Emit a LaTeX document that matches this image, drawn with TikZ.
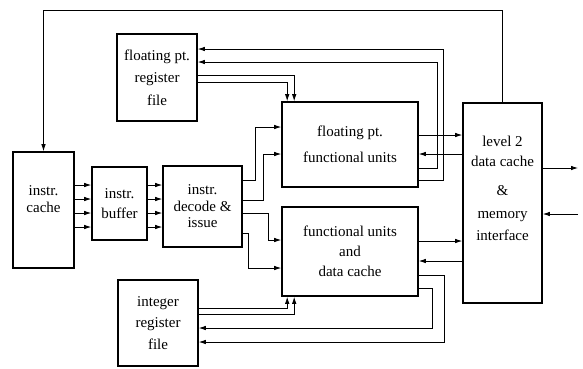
\documentclass[tikz,border=0pt]{standalone}
\usepackage{fontspec}
\setmainfont{Liberation Serif}
\usetikzlibrary{arrows.meta,positioning,calc}
\tikzset{every picture/.style={line width=0.8pt}}
\tikzset{
  blk/.style={draw, line width=1.6pt, align=center, inner sep=0pt, font=\fontsize{15}{20}\selectfont},
  txt/.style={align=center, inner sep=0pt, font=\fontsize{15}{20}\selectfont},
  arr/.style={-{Latex[length=7pt,width=4.5pt]}},
}

\begin{document}
\begin{tikzpicture}[x=1pt,y=-1pt]
    \useasboundingbox (0,0) rectangle (583,368);

    % 方块
    \node[blk, minimum width=61pt, minimum height=116pt, font=\fontsize{15}{17}\selectfont] (icache) at (43.5,210) {instr.\\cache\\[4pt]};
    \node[blk, minimum width=55pt, minimum height=73pt] (ibuf) at (119.5,203.5) {instr.\\buffer};
    \node[blk, minimum width=79pt, minimum height=81pt, font=\fontsize{15}{16.5}\selectfont] (decode) at (202.5,206.5) {instr.\\decode \&\\issue};
    \node[blk, minimum width=80pt, minimum height=87pt, font=\fontsize{15}{22.5}\selectfont] (fpreg) at (157,77.5) {floating pt.\\register\\file};
    \node[blk, minimum width=136pt, minimum height=85pt, font=\fontsize{15}{26}\selectfont] (fpfu) at (350,144.5) {floating pt.\\functional units};
    \node[blk, minimum width=136pt, minimum height=89pt] (fu) at (350,251.5) {functional units\\and\\data cache};
    \node[blk, minimum width=80pt, minimum height=86pt, font=\fontsize{15}{21.5}\selectfont] (intreg) at (158,323) {integer\\register\\file};
    \node[blk, minimum width=79pt, minimum height=200pt] (l2) at (502.5,203) {};
    \node[txt] (l2txt) at (502.5,188) {level 2\\data cache\\[9pt]\&\\[3pt]memory\\[2pt]interface};

    % 外部接口
    \coordinate (out) at (578,168);
    \coordinate (in) at (578,214);

    % 回到指令缓存
    \draw[arr] (l2.north) -- (l2.north |- 0,10) -| (icache.north);

    % 取指通路
    \foreach \y in {185,199,213,227} {
        \draw[arr] (icache.east |- 0,\y) -- (ibuf.west |- 0,\y);
        \draw[arr] (ibuf.east |- 0,\y) -- (decode.west |- 0,\y);
    }

    % 发射
    \draw[arr] (decode.east |- 0,180) -- ++(13,0) |- (fpfu.west |- 0,127);
    \draw[arr] (decode.east |- 0,200) -- ++(21,0) |- (fpfu.west |- 0,154);
    \draw[arr] (decode.east |- 0,213) -- ++(26,0) |- (fu.west |- 0,240);
    \draw[arr] (decode.east |- 0,233) -- ++(6,0) |- (fu.west |- 0,268);

    % 浮点寄存器
    \draw[arr] (fpreg.east |- 0,75) -| ([xshift=13pt]fpfu.north west);
    \draw[arr] (fpreg.east |- 0,82) -| ([xshift=6pt]fpfu.north west);
    \draw[arr] (fpfu.east |- 0,180) -- ++(25,0) |- (fpreg.east |- 0,49);
    \draw[arr] (fpfu.east |- 0,168) -- ++(19,0) |- (fpreg.east |- 0,62);

    % 整数寄存器
    \draw[arr] (intreg.east |- 0,308) -| ([xshift=6pt]fu.south west);
    \draw[arr] (intreg.east |- 0,314) -| ([xshift=13pt]fu.south west);
    \draw[arr] (fu.east |- 0,288) -- ++(14,0) |- (intreg.east |- 0,328);
    \draw[arr] (fu.east |- 0,275) -- ++(26,0) |- (intreg.east |- 0,342);

    % 二级缓存
    \draw[arr] (fpfu.east |- 0,135) -- (l2.west |- 0,135);
    \draw[arr] (l2.west |- 0,154) -- (fpfu.east |- 0,154);
    \draw[arr] (fu.east |- 0,241) -- (l2.west |- 0,241);
    \draw[arr] (l2.west |- 0,261) -- (fu.east |- 0,261);
    \draw[arr] (l2.east |- 0,168) -- (out);
    \draw[arr] (in) -- (l2.east |- 0,214);
\end{tikzpicture}
\end{document}
